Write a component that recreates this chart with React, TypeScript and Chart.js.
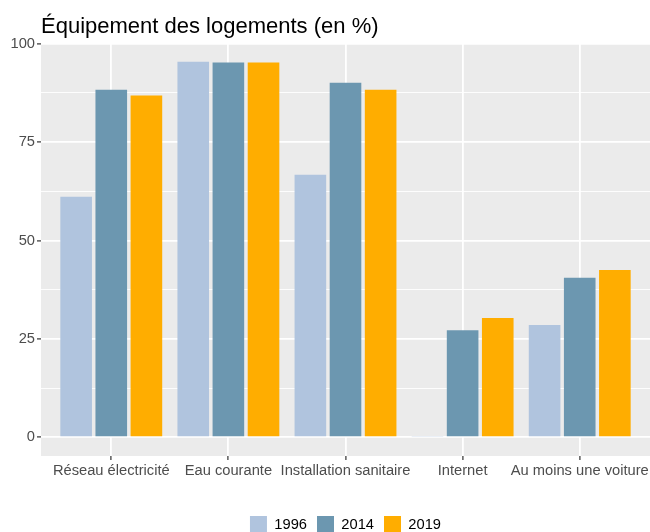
import React, { useEffect, useRef } from "react";
import { Chart, registerables } from "chart.js";

Chart.register(...registerables);

const titleText = "Équipement des logements (en %)";
const categories = [
  "Réseau électricité",
  "Eau courante",
  "Installation sanitaire",
  "Internet",
  "Au moins une voiture",
];
const seriesNames = ["1996", "2014", "2019"];
const values1996 = [61.1, 95.4, 66.7, 0.3, 28.5];
const values2014 = [88.3, 95.2, 90.1, 27.2, 40.5];
const values2019 = [86.8, 95.2, 88.3, 30.3, 42.5];
const seriesColors = ["#B0C4DE", "#6C97B0", "#FFAD00"];
const yMajorTicks = [0, 25, 50, 75, 100];
const yMinorTicks = [12.5, 37.5, 62.5, 87.5];

const FONT = "'Liberation Sans', Arial, Helvetica, sans-serif";
const CANVAS_W = 650;
const CANVAS_H = 543;

export default function App() {
  const ref = useRef<HTMLCanvasElement | null>(null);

  useEffect(() => {
    if (!ref.current) return;
    const allValues = [...values1996, ...values2014, ...values2019];
    const dataMax = Math.max(...allValues);
    const pad = dataMax * 0.05;

    const series = [values1996, values2014, values2019];
    const datasets = series.map((vals, si) => ({
      label: seriesNames[si],
      data: vals.map((v, i) => ({ x: i, y: v })),
      backgroundColor: seriesColors[si],
      borderWidth: 0,
      barPercentage: 0.9,
      categoryPercentage: 0.9,
    }));

    const panelPlugin = {
      id: "panel",
      beforeDraw(chart: any) {
        const { ctx, chartArea } = chart;
        ctx.save();
        ctx.fillStyle = "#EBEBEB";
        ctx.fillRect(
          chartArea.left,
          chartArea.top,
          chartArea.right - chartArea.left,
          chartArea.bottom - chartArea.top
        );
        ctx.restore();
      },
      afterDraw(chart: any) {
        const { ctx, chartArea } = chart;
        ctx.save();
        ctx.font = `22px ${FONT}`;
        ctx.fillStyle = "#000000";
        ctx.textBaseline = "alphabetic";
        ctx.textAlign = "left";
        ctx.fillText(titleText, chartArea.left, 33);
        ctx.restore();
      },
    };

    const isMajor = (v: number) => yMajorTicks.includes(v);

    const chart = new Chart(ref.current, {
      type: "bar",
      data: { datasets: datasets as any },
      plugins: [panelPlugin],
      options: {
        animation: false,
        responsive: false,
        devicePixelRatio: 1,
        layout: { padding: { top: 43, left: 0, right: 0, bottom: 0 } },
        plugins: {
          title: { display: false },
          tooltip: { enabled: false },
          legend: {
            display: true,
            position: "bottom",
            fullSize: false,
            labels: {
              boxWidth: 17,
              boxHeight: 17,
              padding: 10,
              color: "#000000",
              font: { family: FONT, size: 14.7 },
            },
          },
        },
        scales: {
          x: {
            type: "linear",
            offset: false,
            min: -0.6,
            max: categories.length - 1 + 0.6,
            afterBuildTicks(scale: any) {
              scale.ticks = categories.map((_, i) => ({ value: i }));
            },
            afterFit(scale: any) {
              scale.height = 50;
              scale.paddingLeft = 0;
              scale.paddingRight = 0;
            },
            ticks: {
              autoSkip: false,
              maxRotation: 0,
              minRotation: 0,
              padding: 2,
              color: "#4D4D4D",
              font: { family: FONT, size: 14.7 },
              callback: (value: any) => categories[Math.round(Number(value))] ?? "",
            },
            grid: {
              offset: false,
              color: "#FFFFFF",
              lineWidth: 1.8,
              tickColor: "#333333",
              tickLength: 4,
              tickWidth: 1.2,
              drawTicks: true,
            },
            border: { display: false },
          },
          y: {
            type: "linear",
            min: -pad,
            max: dataMax + pad,
            afterBuildTicks(scale: any) {
              scale.ticks = [...yMajorTicks, ...yMinorTicks]
                .sort((a, b) => a - b)
                .map((v) => ({ value: v }));
            },
            afterFit(scale: any) {
              scale.width = 41;
              scale.paddingTop = 0;
              scale.paddingBottom = 0;
            },
            ticks: {
              padding: 2,
              color: "#4D4D4D",
              font: { family: FONT, size: 14.7 },
              callback: (value: any) => (isMajor(Number(value)) ? String(value) : ""),
            },
            grid: {
              color: "#FFFFFF",
              lineWidth: (c: any) => (isMajor(c.tick?.value) ? 1.8 : 0.9),
              tickColor: (c: any) => (isMajor(c.tick?.value) ? "#333333" : "rgba(0,0,0,0)"),
              tickLength: 4,
              tickWidth: 1.2,
              drawTicks: true,
            },
            border: { display: false },
          },
        },
      },
    } as any);

    return () => chart.destroy();
  }, []);

  return (
    <div
      style={{
        position: "absolute",
        left: 0,
        top: 0,
        width: CANVAS_W,
        height: 532,
        overflow: "hidden",
        background: "#FFFFFF",
      }}
    >
      <canvas
        ref={ref}
        width={CANVAS_W}
        height={CANVAS_H}
        style={{ display: "block", width: CANVAS_W, height: CANVAS_H }}
      />
    </div>
  );
}
